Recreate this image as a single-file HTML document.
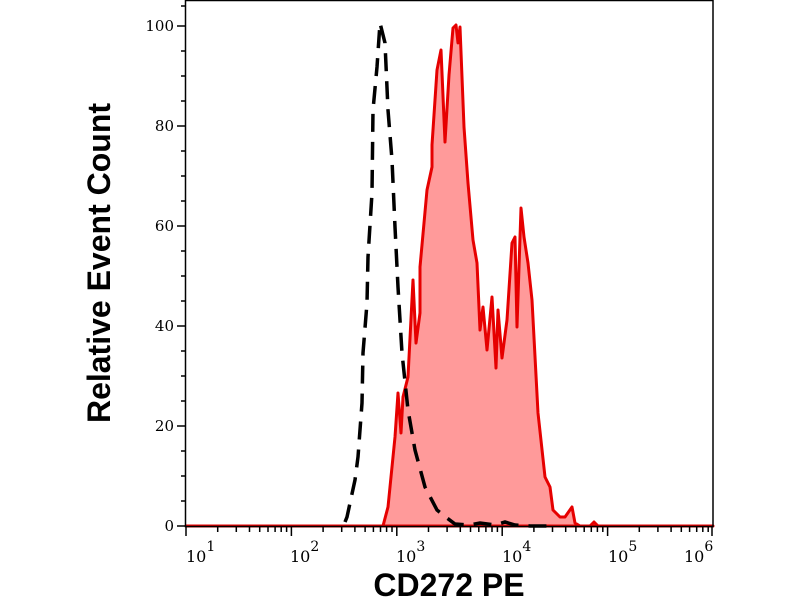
<!DOCTYPE html>
<html><head><meta charset="utf-8"><style>
html,body{margin:0;padding:0;background:#fff;}
svg{display:block;}
</style></head><body>
<svg width="800" height="600" viewBox="0 0 800 600" xmlns="http://www.w3.org/2000/svg">
<rect width="800" height="600" fill="#fff"/>
<path d="M186,526 L383,526 L388,507 L395,437 L398,393 L401,433 L403,397 L408,377 L413,280 L416,343 L420,313 L420,267 L427,190 L432,167 L432,145 L437,70 L441,50 L445,142 L449,75 L453,28 L456,25 L458,43 L460,27 L464,127 L468,183 L473,240 L477,263 L480,330 L483,307 L487,350 L492,297 L496,368 L498,310 L502,358 L507,320 L512,243 L515,237 L517,327 L521,208 L524,237 L528,263 L532,300 L538,413 L545,477 L550,487 L553,510 L560,517 L565,517 L572,507 L575,523 L580,526 L590,526 L594,522 L598,526 L713,526 Z" fill="#ff9a9a" stroke="#e60000" stroke-width="3" stroke-linejoin="round"/>
<path d="M345,522 L347,517 L355,480 L358,457 L362,403 L363,353 L367,303 L368,257 L372,193 L373,110 L377,67 L380,23 L385,43 L388,110 L392,160 L395,227 L398,287 L402,353 L408,410 L415,450 L425,487 L437,510 L447,518 L455,524 L470,525 L480,523 L495,525 L505,522 L515,525 L530,526 L555,526" fill="none" stroke="#000" stroke-width="3.5" stroke-dasharray="18,10"/>
<rect x="185.5" y="0.5" width="527.5" height="526" fill="none" stroke="#000" stroke-width="1.5"/>
<g stroke="#000" stroke-width="1.5">
<line x1="177" y1="526" x2="185" y2="526"/><line x1="177" y1="426" x2="185" y2="426"/><line x1="177" y1="326" x2="185" y2="326"/><line x1="177" y1="226" x2="185" y2="226"/><line x1="177" y1="126" x2="185" y2="126"/><line x1="177" y1="26" x2="185" y2="26"/>
<line x1="181" y1="501" x2="185" y2="501"/><line x1="181" y1="476" x2="185" y2="476"/><line x1="181" y1="451" x2="185" y2="451"/>
<line x1="181" y1="401" x2="185" y2="401"/><line x1="181" y1="376" x2="185" y2="376"/><line x1="181" y1="351" x2="185" y2="351"/>
<line x1="181" y1="301" x2="185" y2="301"/><line x1="181" y1="276" x2="185" y2="276"/><line x1="181" y1="251" x2="185" y2="251"/>
<line x1="181" y1="201" x2="185" y2="201"/><line x1="181" y1="176" x2="185" y2="176"/><line x1="181" y1="151" x2="185" y2="151"/>
<line x1="181" y1="101" x2="185" y2="101"/><line x1="181" y1="76" x2="185" y2="76"/><line x1="181" y1="51" x2="185" y2="51"/>
<line x1="181" y1="6" x2="185" y2="6"/>
</g>
<g font-family="DejaVu Serif, Liberation Serif, serif" font-size="15" text-anchor="end" fill="#000">
<text x="174" y="531">0</text><text x="174" y="431">20</text><text x="174" y="331">40</text><text x="174" y="231">60</text><text x="174" y="131">80</text><text x="174" y="31">100</text>
</g>
<path stroke="#000" stroke-width="1.5" fill="none" d="M186,527V536 M291.4,527V536 M396.8,527V536 M502.2,527V536 M607.6,527V536 M712,527V536
M217.7,527V532 M236.3,527V532 M249.5,527V532 M259.7,527V532 M268,527V532 M275.1,527V532 M281.2,527V532 M286.6,527V532
M323.1,527V532 M341.7,527V532 M354.9,527V532 M365.1,527V532 M373.4,527V532 M380.5,527V532 M386.6,527V532 M392,527V532
M428.5,527V532 M447.1,527V532 M460.3,527V532 M470.5,527V532 M478.8,527V532 M485.9,527V532 M492,527V532 M497.4,527V532
M533.9,527V532 M552.5,527V532 M565.7,527V532 M575.9,527V532 M584.2,527V532 M591.3,527V532 M597.4,527V532 M602.8,527V532
M639.3,527V532 M657.9,527V532 M671.1,527V532 M681.3,527V532 M689.6,527V532 M696.7,527V532 M702.8,527V532 M708.2,527V532"/>
<g font-family="DejaVu Serif, Liberation Serif, serif" fill="#000" font-size="16">
<text x="186" y="562">10<tspan dy="-11" font-size="14">1</tspan></text>
<text x="290" y="562">10<tspan dy="-11" font-size="14">2</tspan></text>
<text x="396" y="562">10<tspan dy="-11" font-size="14">3</tspan></text>
<text x="502" y="562">10<tspan dy="-11" font-size="14">4</tspan></text>
<text x="608" y="562">10<tspan dy="-11" font-size="14">5</tspan></text>
<text x="684" y="562">10<tspan dy="-11" font-size="14">6</tspan></text>
</g>
<text transform="translate(110,263) rotate(-90)" text-anchor="middle" font-family="Liberation Sans, sans-serif" font-weight="bold" font-size="32" fill="#000">Relative Event Count</text>
<text x="449" y="596" text-anchor="middle" font-family="Liberation Sans, sans-serif" font-weight="bold" font-size="32" fill="#000">CD272 PE</text>
</svg>
</body></html>
